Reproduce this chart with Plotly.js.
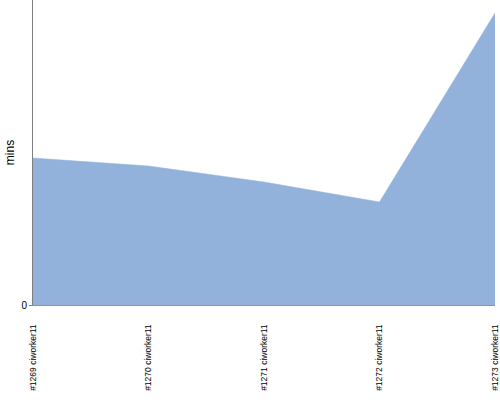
<!DOCTYPE html>
<html><head><meta charset="utf-8">
<script src="https://cdn.plot.ly/plotly-3.0.1.min.js"></script>
<style>html,body{margin:0;padding:0;background:#fff}#chart{width:500px;height:400px}</style>
</head><body><div id="chart"></div>
<script>
const builds = ["#1269 ciworker11", "#1270 ciworker11", "#1271 ciworker11", "#1272 ciworker11", "#1273 ciworker11"];
const minutes = [14.7, 13.9, 12.3, 10.3, 29.2];
const yTicks = [0];

Plotly.newPlot('chart', [{
  x: builds, y: minutes, type: 'scatter', mode: 'lines',
  fill: 'tozeroy', fillcolor: '#92b2db',
  line: {color: '#92b2db', width: 0.5}, hoverinfo: 'skip'
}], {
  width: 500, height: 400,
  margin: {l: 33, r: 5, t: 0, b: 95},
  paper_bgcolor: '#fff', plot_bgcolor: '#fff',
  showlegend: false,
  xaxis: {
    type: 'category', range: [0, 4], showgrid: false, zeroline: false,
    showline: true, linecolor: '#8a94a0', linewidth: 1,
    ticks: 'outside', ticklen: 15, tickcolor: 'rgba(0,0,0,0)',
    tickangle: -90, automargin: false,
    tickfont: {family: 'Liberation Sans, Arial, sans-serif', size: 8.5, color: '#000'}
  },
  yaxis: {
    range: [0, 30.5], tickvals: yTicks, ticktext: ['0'],
    showgrid: false, zeroline: false,
    showline: true, linecolor: '#808080', linewidth: 1,
    ticks: 'outside', ticklen: 3, tickcolor: '#808080',
    tickfont: {family: 'Liberation Sans, Arial, sans-serif', size: 10, color: '#000'},
    title: {text: 'mins', font: {family: 'Liberation Sans, Arial, sans-serif', size: 12, color: '#000'}, standoff: 4}
  }
}, {displayModeBar: false, staticPlot: true});
</script></body></html>
